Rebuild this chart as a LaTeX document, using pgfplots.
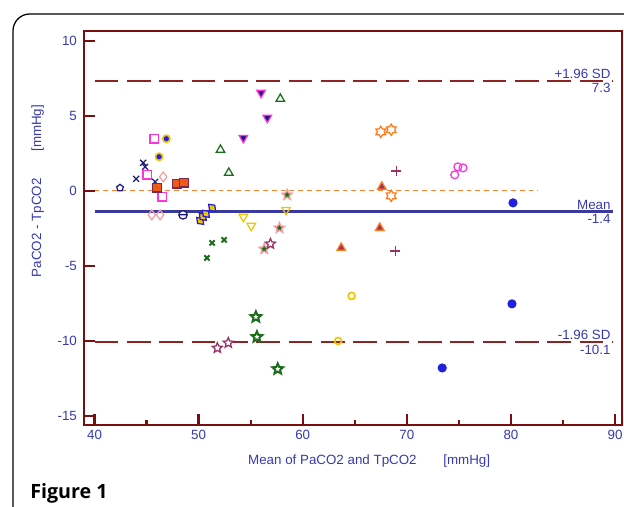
\documentclass[border=0pt]{standalone}
\usepackage{fontspec}
\setmainfont{Liberation Sans}
\newfontfamily\figfont{Open Sans}
\usepackage{pgfplots}
\pgfplotsset{compat=1.18}
\usetikzlibrary{plotmarks}
\definecolor{axred}{HTML}{7A0E0E}
\definecolor{sdred}{HTML}{8E2323}
\definecolor{txtblue}{HTML}{3838B0}
\definecolor{meanblue}{HTML}{3A3A9E}
\definecolor{zeroorange}{HTML}{FF7F2A}
\definecolor{navy}{HTML}{1A1A80}
\definecolor{pinkm}{HTML}{FF33DD}
\definecolor{gold}{HTML}{F5C400}
\definecolor{salmon}{HTML}{F4A0A0}
\definecolor{orred}{HTML}{F05A14}
\definecolor{dgreen}{HTML}{1A6E1A}
\definecolor{purp}{HTML}{993366}
\definecolor{oran}{HTML}{FF7A1A}
\definecolor{brblue}{HTML}{2020E0}

% open 5- and 6-pointed stars
\pgfdeclareplotmark{fivestar}{%
  \pgfpathmoveto{\pgfpointpolar{90}{\pgfplotmarksize}}%
  \pgfpathlineto{\pgfpointpolar{126}{0.45\pgfplotmarksize}}%
  \pgfpathlineto{\pgfpointpolar{162}{\pgfplotmarksize}}%
  \pgfpathlineto{\pgfpointpolar{198}{0.45\pgfplotmarksize}}%
  \pgfpathlineto{\pgfpointpolar{234}{\pgfplotmarksize}}%
  \pgfpathlineto{\pgfpointpolar{270}{0.45\pgfplotmarksize}}%
  \pgfpathlineto{\pgfpointpolar{306}{\pgfplotmarksize}}%
  \pgfpathlineto{\pgfpointpolar{342}{0.45\pgfplotmarksize}}%
  \pgfpathlineto{\pgfpointpolar{18}{\pgfplotmarksize}}%
  \pgfpathlineto{\pgfpointpolar{54}{0.45\pgfplotmarksize}}%
  \pgfpathclose\pgfusepathqfillstroke}
\pgfdeclareplotmark{sixstar}{%
  \pgfpathmoveto{\pgfpointpolar{90}{\pgfplotmarksize}}%
  \pgfpathlineto{\pgfpointpolar{120}{0.6\pgfplotmarksize}}%
  \pgfpathlineto{\pgfpointpolar{150}{\pgfplotmarksize}}%
  \pgfpathlineto{\pgfpointpolar{180}{0.6\pgfplotmarksize}}%
  \pgfpathlineto{\pgfpointpolar{210}{\pgfplotmarksize}}%
  \pgfpathlineto{\pgfpointpolar{240}{0.6\pgfplotmarksize}}%
  \pgfpathlineto{\pgfpointpolar{270}{\pgfplotmarksize}}%
  \pgfpathlineto{\pgfpointpolar{300}{0.6\pgfplotmarksize}}%
  \pgfpathlineto{\pgfpointpolar{330}{\pgfplotmarksize}}%
  \pgfpathlineto{\pgfpointpolar{0}{0.6\pgfplotmarksize}}%
  \pgfpathlineto{\pgfpointpolar{30}{\pgfplotmarksize}}%
  \pgfpathlineto{\pgfpointpolar{60}{0.6\pgfplotmarksize}}%
  \pgfpathclose\pgfusepathqfillstroke}

\begin{document}
\begin{tikzpicture}[x=1cm,y=1cm]
% page 624 x 506 px, 1 px = 0.025 cm
\useasboundingbox (0,0) rectangle (15.6,12.65);
\clip (0,0) rectangle (15.6,12.65);
\draw[line width=0.9pt, rounded corners=0.42cm] (0.325,-0.5) -- (0.325,12.3) -- (16.5,12.3);
\node[anchor=base west, inner sep=0pt, font=\figfont\bfseries\fontsize{14}{16}\selectfont] at (0.75,0.18) {Figure 1};

\begin{axis}[
  at={(2.1cm,2.025cm)}, anchor=south west,
  scale only axis, width=13.45cm, height=9.85cm,
  xmin=38.99, xmax=90.67, ymin=-15.6, ymax=10.65,
  axis line style={axred, line width=2pt},
  xtick={40,50,...,90}, minor xtick={45,55,...,85},
  ytick={-15,-10,...,10},
  tick align=inside, xtick pos=bottom, ytick pos=left,
  major tick length=7.5pt, minor tick length=3.5pt,
  every tick/.style={axred, line width=1.6pt},
  /pgf/number format/assume math mode=true,
  tick label style={font=\fontsize{9.5}{11}\selectfont, text=txtblue},
  yticklabel style={xshift=-1.5pt},
  xlabel={Mean of PaCO2 and TpCO2\hspace{2em}[mmHg]},
  ylabel={PaCO2 - TpCO2\hspace{2em}[mmHg]},
  label style={font=\fontsize{9.5}{11}\selectfont, text=txtblue},
  xlabel style={at={(axis description cs:0.53,-0.092)}, anchor=center},
  ylabel style={at={(axis description cs:-0.086,0.594)}, anchor=center},
  clip=false,
  every axis plot/.append style={only marks, mark size=3pt, line width=0.9pt},
]
% reference lines
\addplot[no marks, sharp plot, sdred, line width=1.4pt, dash pattern=on 17pt off 6pt] coordinates {(40,7.3) (89.8,7.3)};
\addplot[no marks, sharp plot, sdred, line width=1.4pt, dash pattern=on 17pt off 6pt] coordinates {(40,-10.1) (89.8,-10.1)};
\addplot[no marks, sharp plot, meanblue, line width=2pt] coordinates {(40,-1.4) (89.8,-1.4)};
\addplot[no marks, sharp plot, zeroorange, line width=0.9pt, dash pattern=on 3.5pt off 2.8pt] coordinates {(40,0) (82.6,0)};

\node[anchor=south east, inner sep=1.5pt, text=txtblue, font=\fontsize{9.5}{11}\selectfont] at (axis cs:89.8,7.3) {+1.96 SD};
\node[anchor=north east, inner sep=1.5pt, text=txtblue, font=\fontsize{9.5}{11}\selectfont] at (axis cs:89.8,7.3) {7.3};
\node[anchor=south east, inner sep=1.5pt, text=txtblue, font=\fontsize{9.5}{11}\selectfont] at (axis cs:89.8,-1.4) {Mean};
\node[anchor=north east, inner sep=1.5pt, text=txtblue, font=\fontsize{9.5}{11}\selectfont] at (axis cs:89.8,-1.4) {-1.4};
\node[anchor=south east, inner sep=1.5pt, text=txtblue, font=\fontsize{9.5}{11}\selectfont] at (axis cs:89.8,-10.1) {-1.96 SD};
\node[anchor=north east, inner sep=1.5pt, text=txtblue, font=\fontsize{9.5}{11}\selectfont] at (axis cs:89.8,-10.1) {-10.1};

% subjects
\addplot[navy, mark=pentagon, mark size=2.5pt] coordinates {(42.45,0.2)};
\addplot[navy, mark=x] coordinates {(44.0,0.8) (44.67,1.87) (44.86,1.6) (45.82,0.6)};
\addplot[pinkm, mark=square] coordinates {(45.73,3.47) (45.05,1.07) (46.5,-0.4)};
\addplot[brblue, mark=*, mark size=2.6pt, mark options={fill=brblue, draw=gold, line width=1.2pt}] coordinates {(46.9,3.47) (46.2,2.27)};
\addplot[salmon, mark=diamond, mark size=3.5pt] coordinates {(46.6,0.93) (45.5,-1.6) (46.3,-1.6)};
\addplot[mark=square*, mark options={fill=orred, draw=purp!80!black}] coordinates {(46.0,0.2) (47.9,0.47) (48.6,0.53)};
\addplot[navy, mark=halfcircle, mark options={rotate=180}] coordinates {(48.5,-1.6)};
\addplot[mark=diamond*, mark size=3.5pt, mark options={fill=gold, draw=brblue, rotate=45}] coordinates {(50.15,-2.0) (50.4,-1.73) (50.7,-1.53) (51.3,-1.13)};
\addplot[dgreen, mark=x, line width=1.4pt, mark size=2.6pt] coordinates {(51.3,-3.47) (52.45,-3.27) (50.8,-4.47)};
\addplot[dgreen, mark=triangle, mark size=3.5pt] coordinates {(52.1,2.73) (52.9,1.2) (57.85,6.13)};
\addplot[mark=triangle*, mark size=3.5pt, mark options={fill=navy, draw=pinkm, rotate=180}] coordinates {(56.0,6.53) (56.6,4.87) (54.3,3.53)};
\addplot[gold, mark=triangle, mark size=3.5pt, mark options={rotate=180}] coordinates {(54.3,-1.73) (55.05,-2.33) (58.4,-1.27)};
\addplot[mark=fivestar, mark size=3.8pt, mark options={fill=dgreen, draw=salmon, line width=1pt}] coordinates {(58.5,-0.27) (57.76,-2.47) (56.3,-3.87)};
\addplot[purp, mark=fivestar, mark size=3.8pt, mark options={fill=white}] coordinates {(56.9,-3.53) (51.8,-10.47) (52.85,-10.13)};
\addplot[mark=triangle*, mark size=3.5pt, mark options={fill=purp, draw=oran}] coordinates {(63.7,-3.8) (67.6,0.27) (67.4,-2.47)};
\addplot[oran, mark=sixstar, mark size=4pt, mark options={fill=white}] coordinates {(67.5,3.93) (68.5,4.07) (68.5,-0.33)};
\addplot[purp, mark=+, mark size=3.5pt] coordinates {(69.0,1.33) (68.9,-4.0)};
\addplot[pinkm, mark=o, mark size=2.8pt] coordinates {(74.9,1.6) (75.4,1.53) (74.6,1.07)};
\addplot[brblue, mark=oplus*, mark size=2.8pt, mark options={fill=brblue, draw=brblue}] coordinates {(80.2,-0.8) (80.1,-7.53) (73.4,-11.8)};
\addplot[dgreen, mark=fivestar, mark size=4pt, mark options={fill=white, line width=1.4pt}] coordinates {(55.5,-8.4) (55.6,-9.73) (57.6,-11.87)};
\addplot[gold, mark=o, mark size=2.5pt, line width=1.2pt] coordinates {(63.4,-10.0) (64.7,-7.0)};
\end{axis}
\end{tikzpicture}
\end{document}
